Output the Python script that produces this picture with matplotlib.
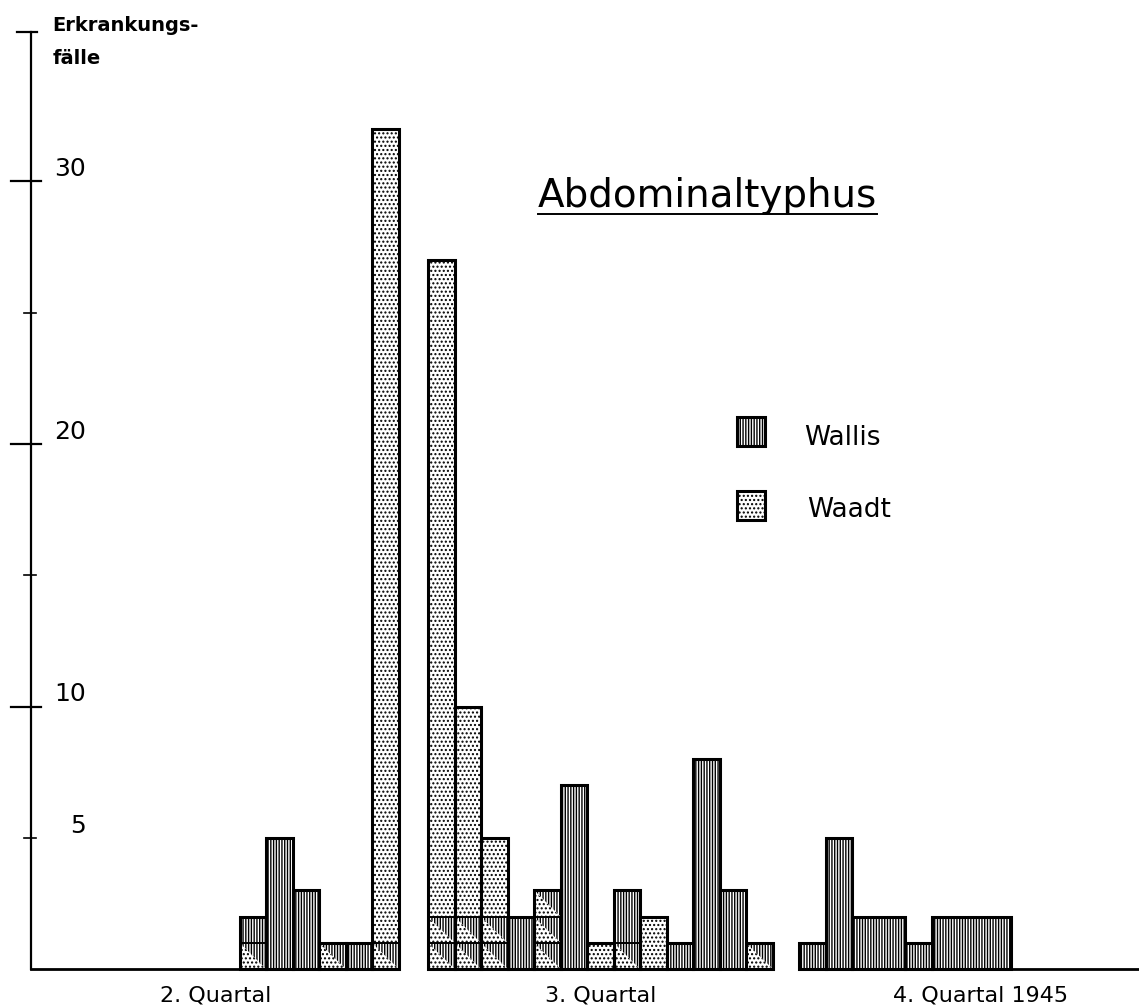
"""Abdominaltyphus: weekly cases in Wallis and Waadt, 1945."""

import matplotlib

matplotlib.use("Agg")
import matplotlib.pyplot as plt
from matplotlib.patches import Polygon, Rectangle

# cases per week, 13 weeks per quarter
quarter_labels = ["2. Quartal", "3. Quartal", "4. Quartal 1945"]
# "both" cells are drawn split diagonally at the bottom of a bar
both_q2 = [0, 0, 0, 0, 0, 0, 0, 1, 0, 0, 1, 0, 1]
wallis_q2 = [0, 0, 0, 0, 0, 0, 0, 1, 5, 3, 0, 1, 0]
waadt_q2 = [0, 0, 0, 0, 0, 0, 0, 0, 0, 0, 0, 0, 31]
both_q3 = [2, 2, 2, 0, 3, 0, 0, 1, 0, 0, 0, 0, 1]
wallis_q3 = [0, 0, 0, 2, 0, 7, 0, 2, 0, 1, 8, 3, 0]
waadt_q3 = [25, 8, 3, 0, 0, 0, 1, 0, 2, 0, 0, 0, 0]
both_q4 = [0, 0, 0, 0, 0, 0, 0, 0, 0, 0, 0, 0, 0]
wallis_q4 = [1, 5, 2, 2, 1, 2, 2, 2, 0, 0, 0, 0, 0]
waadt_q4 = [0, 0, 0, 0, 0, 0, 0, 0, 0, 0, 0, 0, 0]

major_ticks = [10, 20, 30]
minor_ticks = [5, 15, 25]
label_ticks = [5, 10, 20, 30]

# layout (x in weeks, y in cases)
WEEK_PX = 26.5
UNIT_PX = 26.25
quarter_starts = [-14.1, 0.0, 14.0]
quarter_label_x = [-8.0, 6.5, 20.85]
axis_x = -15.0
axis_top = 35.7

plt.rcParams["font.family"] = "DejaVu Sans"
plt.rcParams["hatch.color"] = "black"
plt.rcParams["hatch.linewidth"] = 1.0

WALLIS = dict(facecolor="white", edgecolor="black", linewidth=0, hatch="||||||", zorder=2)
WAADT = dict(facecolor="white", edgecolor="black", linewidth=0, hatch="....", zorder=2)
EDGE_LW = 2.2


def draw_week(ax, x0, both, wallis, waadt):
    y = 0
    for _ in range(both):
        ax.add_patch(Polygon([(x0, y), (x0, y + 1), (x0 + 1, y)], closed=True, **WAADT))
        ax.add_patch(Polygon([(x0, y + 1), (x0 + 1, y + 1), (x0 + 1, y)], closed=True, **WALLIS))
        y += 1
        ax.plot([x0, x0 + 1], [y, y], color="black", lw=1.4, zorder=3)
    if wallis:
        ax.add_patch(Rectangle((x0, y), 1, wallis, **WALLIS))
        y += wallis
    if waadt:
        ax.add_patch(Rectangle((x0, y), 1, waadt, **WAADT))


def draw_outlines(ax, start, both, wallis, waadt):
    # neighbouring weeks with the same counts share one outline
    weeks = list(zip(both, wallis, waadt))
    i = 0
    while i < len(weeks):
        j = i + 1
        while j < len(weeks) and weeks[j] == weeks[i]:
            j += 1
        total = sum(weeks[i])
        if total:
            ax.add_patch(Rectangle((start + i, 0), j - i, total, fill=False,
                                   edgecolor="black", lw=EDGE_LW, zorder=4, joinstyle="miter"))
        i = j


fig = plt.figure(figsize=(11.39, 10.05), dpi=100)
ax = fig.add_axes([0, 0, 1, 1])
ax.set_xlim(-428 / WEEK_PX, 711 / WEEK_PX)
ax.set_ylim(-36 / UNIT_PX, 969 / UNIT_PX)
ax.axis("off")

quarters = [
    (both_q2, wallis_q2, waadt_q2),
    (both_q3, wallis_q3, waadt_q3),
    (both_q4, wallis_q4, waadt_q4),
]
for start, (both, wallis, waadt) in zip(quarter_starts, quarters):
    for i in range(len(both)):
        draw_week(ax, start + i, both[i], wallis[i], waadt[i])
    draw_outlines(ax, start, both, wallis, waadt)

# baselines
ax.plot([axis_x, quarter_starts[0] + 13], [0, 0], color="black", lw=2.0, zorder=4)
ax.plot([quarter_starts[2], ax.get_xlim()[1]], [0, 0], color="black", lw=2.0, zorder=4)

# y axis with hand-drawn ticks
ax.plot([axis_x, axis_x], [0, axis_top], color="black", lw=1.6, zorder=4)
for t in major_ticks:
    ax.plot([axis_x - 0.75, axis_x + 0.4], [t, t], color="black", lw=1.6)
for t in minor_ticks:
    ax.plot([axis_x - 0.25, axis_x + 0.2], [t, t], color="black", lw=1.2)
ax.plot([axis_x - 0.5, axis_x + 0.25], [axis_top, axis_top], color="black", lw=1.6)
for t in label_ticks:
    ax.text(axis_x + 2.1, t + 0.2, str(t), fontsize=18, ha="right", va="baseline")

ax.text(-14.19, 35.72, "Erkrankungs-", fontsize=14, fontweight="bold", va="baseline")
ax.text(-14.15, 34.48, "fälle", fontsize=14, fontweight="bold", va="baseline")

for x, label in zip(quarter_label_x, quarter_labels):
    ax.text(x, -1.22, label, fontsize=16, ha="center", va="baseline")

# title with underline
title = ax.text(4.15, 29.03, "Abdominaltyphus", fontsize=28, va="baseline")
fig.canvas.draw()
bb = title.get_window_extent(fig.canvas.get_renderer()).transformed(ax.transData.inverted())
ax.plot([bb.x0, bb.x1], [28.75, 28.75], color="black", lw=1.4)

# legend
ax.add_patch(Rectangle((11.66, 19.92), 1.06, 1.1, **WALLIS))
ax.add_patch(Rectangle((11.66, 19.92), 1.06, 1.1, fill=False, edgecolor="black", lw=EDGE_LW, zorder=4))
ax.add_patch(Rectangle((11.66, 17.1), 1.06, 1.1, **WAADT))
ax.add_patch(Rectangle((11.66, 17.1), 1.06, 1.1, fill=False, edgecolor="black", lw=EDGE_LW, zorder=4))
ax.text(14.2, 19.96, "Wallis", fontsize=19, va="baseline")
ax.text(14.32, 17.22, "Waadt", fontsize=19, va="baseline")

fig.savefig("out.png", dpi=100)
plt.close(fig)
